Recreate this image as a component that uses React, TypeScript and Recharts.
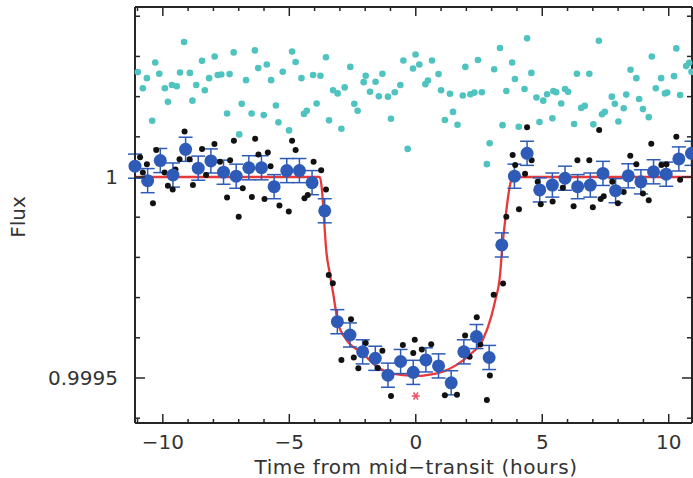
import React from "react";
import { ComposedChart, XAxis, YAxis, Scatter, Line, ErrorBar } from "recharts";

const FONT = "'DejaVu Sans', sans-serif";
const INK = "#333333";
const FRAME = "#262626";
const CYAN = "#4fc3bf";
const BLACK = "#111111";
const BLUE = "#2e5bb8";
const RED = "#e8393a";
const STAR = "#e8566a";

// axis ticks
const xTicks = [-11, -10, -9, -8, -7, -6, -5, -4, -3, -2, -1, 0, 1, 2, 3, 4, 5, 6, 7, 8, 9, 10];
const xLabelled = [-10, -5, 0, 5, 10];
const yTicks = [0.9994, 0.9995, 0.9996, 0.9997, 0.9998, 0.9999, 1, 1.0001, 1.0002, 1.0003, 1.0004];
const yLabelled = [0.9995, 1];

// [time from mid-transit (h), flux]
const offsetPoints = [
  [-10.99, 1.000261], [-10.79, 1.000221], [-10.63, 1.000246], [-10.42, 1.00014], [-10.3, 1.000285],
  [-10.14, 1.000257], [-9.92, 1.000221], [-9.8, 1.000187], [-9.64, 1.000229], [-9.45, 1.000226],
  [-9.32, 1.00026], [-9.16, 1.000336], [-8.93, 1.000259], [-8.83, 1.00019], [-8.68, 1.000229],
  [-8.45, 1.000289], [-8.34, 1.000216], [-8.17, 1.000246], [-7.95, 1.0003], [-7.83, 1.000254],
  [-7.69, 1.000255], [-7.46, 1.000158], [-7.36, 1.000256], [-7.2, 1.00031], [-6.98, 1.000106],
  [-6.88, 1.000182], [-6.71, 1.000241], [-6.49, 1.000158], [-6.36, 1.000315], [-6.23, 1.000271],
  [-6.01, 1.000154], [-5.89, 1.00028], [-5.72, 1.000241], [-5.53, 1.000178], [-5.43, 1.000136],
  [-5.26, 1.000262], [-5.01, 1.000116], [-4.89, 1.000312], [-4.75, 1.000286], [-4.52, 1.000246],
  [-4.42, 1.000157], [-4.31, 1.000165], [-4.06, 1.000254], [-3.92, 1.000183], [-3.77, 1.000252],
  [-3.55, 1.000298], [-3.43, 1.000141], [-3.27, 1.000216], [-3.09, 1.000208], [-2.94, 1.00012],
  [-2.81, 1.000223], [-2.59, 1.000274], [-2.43, 1.000182], [-2.3, 1.000165], [-2.06, 1.000236],
  [-1.98, 1.000252], [-1.81, 1.000212], [-1.59, 1.000237], [-1.46, 1.000201], [-1.32, 1.000257],
  [-1.1, 1.0002], [-0.98, 1.000145], [-0.83, 1.000211], [-0.61, 1.000229], [-0.49, 1.00029],
  [-0.32, 1.00007], [-0.11, 1.00027], [-0.01, 1.000305], [0.14, 1.00028], [0.38, 1.000231],
  [0.48, 1.00024], [0.64, 1.00029], [0.9, 1.000256], [1.0, 1.000216], [1.15, 1.000142],
  [1.35, 1.000207], [1.47, 1.000162], [1.65, 1.00013], [1.86, 1.000203], [1.96, 1.000274],
  [2.16, 1.000206], [2.32, 1.00021], [2.46, 1.000291], [2.61, 1.000211], [2.81, 1.000032],
  [2.92, 1.000084], [3.1, 1.000268], [3.33, 1.000321], [3.43, 1.000129], [3.58, 1.000214],
  [3.81, 1.000285], [3.92, 1.000244], [4.07, 1.000125], [4.3, 1.000219], [4.4, 1.000345],
  [4.57, 1.000259], [4.77, 1.000198], [4.89, 1.000137], [5.04, 1.00019], [5.19, 1.000206],
  [5.4, 1.000146], [5.44, 1.000214], [5.55, 1.000211], [5.75, 1.000183], [5.9, 1.000219],
  [6.02, 1.000212], [6.26, 1.000132], [6.37, 1.000257], [6.54, 1.000172], [6.68, 1.000177],
  [6.86, 1.000257], [7.02, 1.000131], [7.24, 1.000339], [7.36, 1.000156], [7.47, 1.000162],
  [7.75, 1.0002], [7.87, 1.000182], [8.01, 1.000138], [8.22, 1.000171], [8.32, 1.000205],
  [8.49, 1.000267], [8.72, 1.000246], [8.83, 1.000194], [8.98, 1.000169], [9.21, 1.000149],
  [9.33, 1.0003], [9.49, 1.000221], [9.7, 1.000246], [9.85, 1.000208], [9.94, 1.00021],
  [10.21, 1.000251], [10.3, 1.00032], [10.45, 1.000204], [10.69, 1.000276], [10.81, 1.000284],
  [10.9, 1.000262],
];

const rawPoints = [
  [-10.9, 1.000049], [-10.79, 1.000011], [-10.63, 1.000032], [-10.39, 0.999935], [-10.26, 1.000067],
  [-9.93, 1.000011], [-9.8, 0.999978], [-9.61, 0.999969], [-9.5, 1.000019], [-9.34, 1.000044],
  [-9.14, 1.000113], [-8.94, 1.000044], [-8.81, 0.99998], [-8.45, 1.00007], [-8.29, 1.000005],
  [-7.96, 1.000082], [-7.74, 1.000038], [-7.46, 0.999949], [-7.34, 1.000042], [-7.19, 1.00009],
  [-7.0, 0.999901], [-6.84, 0.999972], [-6.48, 0.99995], [-6.35, 1.000095], [-6.22, 1.000056],
  [-5.98, 0.999945], [-5.85, 1.000061], [-5.74, 1.000027], [-5.39, 0.999929], [-5.02, 0.999914],
  [-4.89, 1.00009], [-4.75, 1.000067], [-4.4, 0.999947], [-4.27, 0.999955], [-4.04, 1.000038],
  [-3.74, 1.000017], [-3.55, 0.999969], [-3.44, 0.999756], [-3.28, 0.999736], [-2.94, 0.999545],
  [-2.56, 0.999646], [-2.45, 0.999551], [-2.27, 0.999524], [-1.98, 0.999587], [-1.5, 0.999525],
  [-1.32, 0.999568], [-0.98, 0.999455], [-0.51, 0.999582], [-0.1, 0.999562], [-0.04, 0.999595],
  [0.24, 0.999571], [0.61, 0.999584], [1.15, 0.999457], [1.63, 0.999458], [1.95, 0.999606],
  [2.13, 0.999553], [2.41, 0.999651], [2.55, 0.999583], [2.81, 0.999445], [2.93, 0.999506],
  [3.08, 0.999707], [3.45, 0.999735], [3.58, 0.999901], [3.83, 1.000055], [3.93, 1.00003],
  [4.08, 0.99992], [4.32, 1.000008], [4.4, 1.000124], [4.58, 1.000042], [4.82, 0.999988],
  [4.94, 0.999932], [5.41, 0.999939], [5.81, 0.999973], [6.24, 0.999927], [6.39, 1.000042],
  [6.86, 1.000042], [7.0, 0.999925], [7.25, 1.000117], [7.31, 0.999945], [7.43, 0.999952],
  [7.77, 0.999988], [7.99, 0.999935], [8.22, 0.999963], [8.48, 1.000053], [8.72, 1.000032],
  [8.98, 0.999959], [9.21, 0.999942], [9.31, 1.000083], [9.71, 1.00003], [9.91, 1.000032],
  [10.3, 1.0001], [10.45, 0.999993],
];

const binnedPoints = [
  [-11.1, 1.000027], [-10.6, 0.999991], [-10.1, 1.000041], [-9.6, 1.000005], [-9.1, 1.000069],
  [-8.6, 1.000022], [-8.1, 1.00004], [-7.6, 1.000012], [-7.1, 1.000002], [-6.6, 1.000023],
  [-6.1, 1.000023], [-5.6, 0.999976], [-5.1, 1.000016], [-4.6, 1.000016], [-4.1, 0.999986],
  [-3.6, 0.999916], [-3.1, 0.99964], [-2.6, 0.999607], [-2.1, 0.999565], [-1.6, 0.999549],
  [-1.1, 0.999507], [-0.6, 0.999541], [-0.1, 0.999514], [0.4, 0.999545], [0.9, 0.99953],
  [1.4, 0.999488], [1.9, 0.999565], [2.4, 0.999603], [2.9, 0.999551], [3.4, 0.999831],
  [3.9, 1.000002], [4.4, 1.000059], [4.9, 0.999968], [5.4, 0.99998], [5.9, 0.999997],
  [6.4, 0.999976], [6.9, 0.99998], [7.4, 1.000009], [7.9, 0.999966], [8.4, 1.000003],
  [8.9, 0.999988], [9.4, 1.000013], [9.9, 1.000007], [10.4, 1.000045], [10.9, 1.000059],
];
const BIN_ERR = 0.00003;

const modelPoints = [
  [-11.1, 1], [-3.8, 1], [-3.72, 0.999975], [-3.62, 0.99989], [-3.55, 0.999825], [-3.4, 0.99976],
  [-3.27, 0.999712], [-3.07, 0.999636], [-2.74, 0.999595], [-2.09, 0.999561], [-1.57, 0.99953],
  [-1.04, 0.999513], [-0.5, 0.999507], [0, 0.999505], [0.5, 0.999508], [1.07, 0.999516],
  [1.6, 0.999532], [2.12, 0.999557], [2.65, 0.999595], [2.98, 0.999652], [3.15, 0.999695],
  [3.31, 0.999744], [3.44, 0.999838], [3.55, 0.9999], [3.65, 0.999951], [3.78, 0.999993],
  [3.92, 1], [10.92, 1],
];

const centrePoints = [[0, 0.999455]];

const rows = (pts: number[][]) => pts.map(([t, f]) => ({ t, f }));
const binRows = binnedPoints.map(([t, f]) => ({ t, f, err: BIN_ERR }));

const X_DOMAIN = [-11.1, 10.92];
const Y_DOMAIN = [0.999388, 1.000423];

const isMajor = (v: number, list: number[]) => list.some((m) => Math.abs(m - v) < 1e-9);
const fmt = (v: number) => String(v).replace("-", "\u2212");

const BottomTick = ({ x, y, payload }: any) => {
  const major = isMajor(payload.value, xLabelled);
  return (
    <g>
      <line x1={x} x2={x} y1={y} y2={y - (major ? 9 : 4)} stroke={FRAME} strokeWidth={1.5} />
      {major && (
        <text x={x} y={y + 26} textAnchor="middle" fill={INK} fontSize={20} fontFamily={FONT}>
          {fmt(payload.value)}
        </text>
      )}
    </g>
  );
};

const TopTick = ({ x, y, payload }: any) => {
  const major = isMajor(payload.value, xLabelled);
  return <line x1={x} x2={x} y1={y} y2={y + (major ? 9 : 4)} stroke={FRAME} strokeWidth={1.5} />;
};

const LeftTick = ({ x, y, payload }: any) => {
  const major = isMajor(payload.value, yLabelled);
  return (
    <g>
      <line x1={x} x2={x + (major ? 10 : 5)} y1={y} y2={y} stroke={FRAME} strokeWidth={1.5} />
      {major && (
        <text x={x - 17} y={y + 7} textAnchor="end" fill={INK} fontSize={20} fontFamily={FONT}>
          {String(payload.value)}
        </text>
      )}
    </g>
  );
};

const RightTick = ({ x, y, payload }: any) => {
  const major = isMajor(payload.value, yLabelled);
  return <line x1={x} x2={x - (major ? 10 : 5)} y1={y} y2={y} stroke={FRAME} strokeWidth={1.5} />;
};

const dot = (r: number, fill: string) => (p: any) => <circle cx={p.cx} cy={p.cy} r={r} fill={fill} />;

const Asterisk = (p: any) => (
  <g stroke={STAR} strokeWidth={1.6}>
    <line x1={p.cx - 4} x2={p.cx + 4} y1={p.cy} y2={p.cy} />
    <line x1={p.cx - 2.2} x2={p.cx + 2.2} y1={p.cy - 3.6} y2={p.cy + 3.6} />
    <line x1={p.cx - 2.2} x2={p.cx + 2.2} y1={p.cy + 3.6} y2={p.cy - 3.6} />
  </g>
);

const fluxLabel = () => (
  <text x={25} y={217} transform="rotate(-90 25 217)" textAnchor="middle" fill={INK} fontSize={20} fontFamily={FONT}>
    Flux
  </text>
);

const timeLabel = () => (
  <text x={416} y={474} textAnchor="middle" fill={INK} fontSize={20} letterSpacing={0.6} fontFamily={FONT}>
    Time from mid{"\u2212"}transit (hours)
  </text>
);

const axisLine = { stroke: FRAME, strokeWidth: 2 };

export default function App() {
  return (
    <div style={{ position: "absolute", left: 0, top: 0, background: "#fff" }}>
      <ComposedChart width={693} height={478} margin={{ top: 6, right: 0, bottom: 0, left: 0 }}>
        <XAxis
          xAxisId={0}
          type="number"
          dataKey="t"
          domain={X_DOMAIN}
          ticks={xTicks}
          interval={0}
          height={55}
          tickSize={0}
          tickMargin={0}
          tickLine={false}
          axisLine={axisLine}
          tick={<BottomTick />}
          label={timeLabel}
        />
        <XAxis
          xAxisId="top"
          orientation="top"
          type="number"
          dataKey="t"
          domain={X_DOMAIN}
          allowDataOverflow
          ticks={xTicks}
          interval={0}
          height={1}
          tickSize={0}
          tickMargin={0}
          tickLine={false}
          axisLine={axisLine}
          tick={<TopTick />}
        />
        <YAxis
          yAxisId={0}
          type="number"
          dataKey="f"
          domain={Y_DOMAIN}
          ticks={yTicks}
          interval={0}
          width={135}
          tickSize={0}
          tickMargin={0}
          tickLine={false}
          axisLine={axisLine}
          tick={<LeftTick />}
          label={fluxLabel}
        />
        <YAxis
          yAxisId="right"
          orientation="right"
          type="number"
          dataKey="f"
          domain={Y_DOMAIN}
          allowDataOverflow
          ticks={yTicks}
          interval={0}
          width={1}
          tickSize={0}
          tickMargin={0}
          tickLine={false}
          axisLine={axisLine}
          tick={<RightTick />}
        />
        {/* invisible copy of the model so the frame axes get a domain */}
        <Line
          xAxisId="top"
          yAxisId="right"
          data={rows(modelPoints)}
          dataKey="f"
          stroke="none"
          dot={false}
          activeDot={false}
          isAnimationActive={false}
        />
        <Line
          data={rows(modelPoints)}
          dataKey="f"
          type="monotone"
          stroke={RED}
          strokeWidth={2.3}
          dot={false}
          activeDot={false}
          isAnimationActive={false}
        />
        <Scatter data={rows(offsetPoints)} dataKey="f" shape={dot(3.3, CYAN)} isAnimationActive={false} />
        <Scatter data={rows(rawPoints)} dataKey="f" shape={dot(3, BLACK)} isAnimationActive={false} />
        <Scatter data={binRows} dataKey="f" shape={dot(6.5, BLUE)} isAnimationActive={false}>
          <ErrorBar dataKey="err" direction="y" width={7} stroke={BLUE} strokeWidth={1.5} />
        </Scatter>
        <Scatter data={rows(centrePoints)} dataKey="f" shape={Asterisk} isAnimationActive={false} />
      </ComposedChart>
    </div>
  );
}
